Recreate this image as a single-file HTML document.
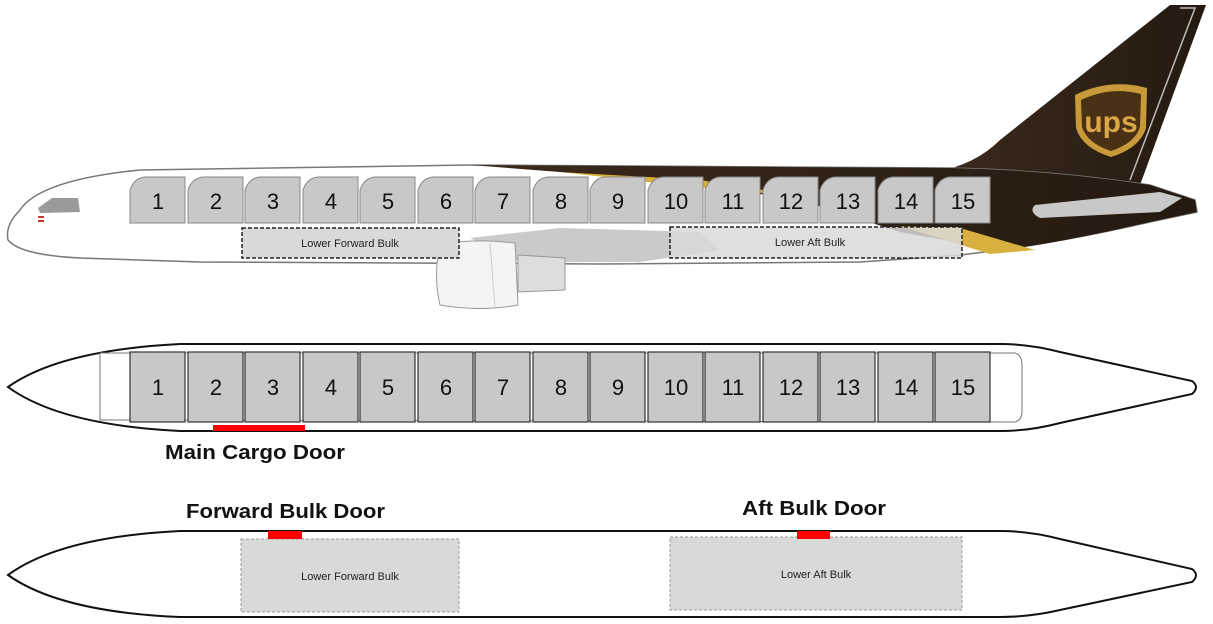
<!DOCTYPE html>
<html><head><meta charset="utf-8"><style>
html,body{margin:0;padding:0;background:#fff;width:1213px;height:624px;overflow:hidden}
svg{display:block}
text{font-family:"Liberation Sans",sans-serif}
</style></head><body>
<svg width="1213" height="624" viewBox="0 0 1213 624" xmlns="http://www.w3.org/2000/svg">
<defs>
<linearGradient id="br" x1="0" x2="1">
<stop offset="0" stop-color="#3a2a1c"/><stop offset="1" stop-color="#251a10"/>
</linearGradient>
</defs>
<!-- TOP PLANE -->
<path d="M935,172 Q975,165 1000,140 L1170,5 L1206,5 L1140,185 Z" fill="url(#br)"/>
<path d="M1180,8 L1195,8 L1130,180" stroke="#bbb" stroke-width="1.5" fill="none"/>
<path d="M20,210 Q40,180 140,170 L470,165 L950,168 Q1050,170 1150,185 L1195,200 L1197,212 L1150,222 Q1050,245 960,255 L860,262 L600,264 L200,262 L80,258 Q20,255 8,240 Q5,225 20,210 Z" fill="#fff" stroke="#777" stroke-width="1.5"/>
<path d="M470,165 L950,168 Q1050,170 1150,185 L1195,200 L1197,212 L1150,222 Q1050,245 1000,250 L900,232 L800,200 L700,185 L560,172 Z" fill="url(#br)"/>
<path d="M900,226 L960,228 L1035,250 L990,254 Z" fill="#d8b040"/>
<path d="M560,172 L700,180 L800,196 L700,188 Z" fill="#d8b040"/>
<path d="M1035,205 L1160,192 L1182,198 L1160,212 L1040,218 Q1028,212 1035,205 Z" fill="#c8c8c8"/>
<path d="M1075,95 Q1110,78 1147,88 L1146,128 Q1140,148 1111,157 Q1082,148 1076,128 Z" fill="#c99a3a"/>
<path d="M1081,100 Q1110,86 1141,94 L1140,127 Q1135,143 1111,151 Q1087,143 1082,127 Z" fill="#4a3015"/>
<text x="1111" y="132" font-size="30" font-weight="bold" fill="#d9a845" text-anchor="middle">ups</text>
<path d="M38,208 L52,198 L78,198 L80,212 L40,213 Z" fill="#9a9a9a"/>
<rect x="38" y="216" width="6" height="2" fill="#c33"/><rect x="38" y="220" width="6" height="2" fill="#c33"/>
<path d="M470,238 L560,228 L700,232 L720,250 L640,262 L520,262 Z" fill="#bdbdbd" opacity="0.8"/>
<path d="M518,255 L565,258 L565,290 L518,292 Z" fill="#ddd" stroke="#999"/>
<path d="M440,245 Q470,238 515,243 L518,305 Q480,312 440,305 Q433,275 440,245 Z" fill="#f4f4f4" stroke="#999"/>
<line x1="490" y1="243" x2="495" y2="308" stroke="#ccc"/>
<rect x="242" y="228" width="217" height="30" fill="#d9d9d9" stroke="#222" stroke-width="1.5" stroke-dasharray="4,2"/>
<text x="350" y="247" font-size="11" text-anchor="middle" fill="#222">Lower Forward Bulk</text>
<rect x="670" y="227" width="292" height="31" fill="#d9d9d9" fill-opacity="0.85" stroke="#222" stroke-width="1.5" stroke-dasharray="4,2"/>
<text x="810" y="246" font-size="11" text-anchor="middle" fill="#222">Lower Aft Bulk</text>
<g fill="#c8c8c8" stroke="#888" stroke-width="1">
<path d="M130,223 V190 Q134,178 145,177 H185 V223 Z"/>
<path d="M188,223 V190 Q192,178 203,177 H243 V223 Z"/>
<path d="M245,223 V190 Q249,178 260,177 H300 V223 Z"/>
<path d="M303,223 V190 Q307,178 318,177 H358 V223 Z"/>
<path d="M360,223 V190 Q364,178 375,177 H415 V223 Z"/>
<path d="M418,223 V190 Q422,178 433,177 H473 V223 Z"/>
<path d="M475,223 V190 Q479,178 490,177 H530 V223 Z"/>
<path d="M533,223 V190 Q537,178 548,177 H588 V223 Z"/>
<path d="M590,223 V190 Q594,178 605,177 H645 V223 Z"/>
<path d="M648,223 V190 Q652,178 663,177 H703 V223 Z"/>
<path d="M705,223 V190 Q709,178 720,177 H760 V223 Z"/>
<path d="M763,223 V190 Q767,178 778,177 H818 V223 Z"/>
<path d="M820,223 V190 Q824,178 835,177 H875 V223 Z"/>
<path d="M878,223 V190 Q882,178 893,177 H933 V223 Z"/>
<path d="M935,223 V190 Q939,178 950,177 H990 V223 Z"/>
</g>
<g font-size="22" fill="#111" text-anchor="middle">
<text x="158" y="209">1</text><text x="216" y="209">2</text><text x="273" y="209">3</text><text x="331" y="209">4</text><text x="388" y="209">5</text><text x="446" y="209">6</text><text x="503" y="209">7</text><text x="561" y="209">8</text><text x="618" y="209">9</text><text x="676" y="209">10</text><text x="733" y="209">11</text><text x="791" y="209">12</text><text x="848" y="209">13</text><text x="906" y="209">14</text><text x="963" y="209">15</text>
</g>

<!-- MIDDLE PLANE -->
<path d="M8,387 Q60,350 180,344 L1000,344 Q1030,344 1060,352 L1192,381 Q1200,387 1192,394 L1060,423 Q1030,431 1000,431 L180,431 Q60,425 8,387 Z" fill="#fff" stroke="#111" stroke-width="2"/>
<path d="M100,353 L1015,353 Q1022,355 1022,365 L1022,412 Q1022,420 1015,422 L100,420 Z" fill="#fff" stroke="#777" stroke-width="1"/>
<g fill="#c8c8c8" stroke="#333" stroke-width="1.2">
<rect x="130" y="352" width="55" height="70"/><rect x="188" y="352" width="55" height="70"/><rect x="245" y="352" width="55" height="70"/><rect x="303" y="352" width="55" height="70"/><rect x="360" y="352" width="55" height="70"/><rect x="418" y="352" width="55" height="70"/><rect x="475" y="352" width="55" height="70"/><rect x="533" y="352" width="55" height="70"/><rect x="590" y="352" width="55" height="70"/><rect x="648" y="352" width="55" height="70"/><rect x="705" y="352" width="55" height="70"/><rect x="763" y="352" width="55" height="70"/><rect x="820" y="352" width="55" height="70"/><rect x="878" y="352" width="55" height="70"/><rect x="935" y="352" width="55" height="70"/>
</g>
<g font-size="22" fill="#111" text-anchor="middle">
<text x="158" y="395">1</text><text x="216" y="395">2</text><text x="273" y="395">3</text><text x="331" y="395">4</text><text x="388" y="395">5</text><text x="446" y="395">6</text><text x="503" y="395">7</text><text x="561" y="395">8</text><text x="618" y="395">9</text><text x="676" y="395">10</text><text x="733" y="395">11</text><text x="791" y="395">12</text><text x="848" y="395">13</text><text x="906" y="395">14</text><text x="963" y="395">15</text>
</g>
<rect x="213" y="425" width="92" height="6" fill="#f00"/>
<text x="165" y="459" font-size="20" font-weight="bold" fill="#111" textLength="180" lengthAdjust="spacingAndGlyphs">Main Cargo Door</text>

<!-- BOTTOM PLANE -->
<path d="M8,575 Q60,537 180,531 L1000,531 Q1030,531 1060,539 L1192,569 Q1200,575 1192,582 L1060,610 Q1030,617 1000,617 L180,617 Q60,612 8,575 Z" fill="#fff" stroke="#111" stroke-width="2"/>
<rect x="241" y="539" width="218" height="73" fill="#d9d9d9" stroke="#999" stroke-dasharray="3,2"/>
<text x="350" y="580" font-size="11" text-anchor="middle" fill="#222">Lower Forward Bulk</text>
<rect x="670" y="537" width="292" height="73" fill="#d9d9d9" stroke="#999" stroke-dasharray="3,2"/>
<text x="816" y="578" font-size="11" text-anchor="middle" fill="#222">Lower Aft Bulk</text>
<rect x="268" y="531" width="34" height="8" fill="#f00"/>
<rect x="797" y="531" width="33" height="8" fill="#f00"/>
<text x="186" y="518" font-size="20" font-weight="bold" fill="#111" textLength="199" lengthAdjust="spacingAndGlyphs">Forward Bulk Door</text>
<text x="742" y="515" font-size="20" font-weight="bold" fill="#111" textLength="144" lengthAdjust="spacingAndGlyphs">Aft Bulk Door</text>
</svg>
</body></html>
